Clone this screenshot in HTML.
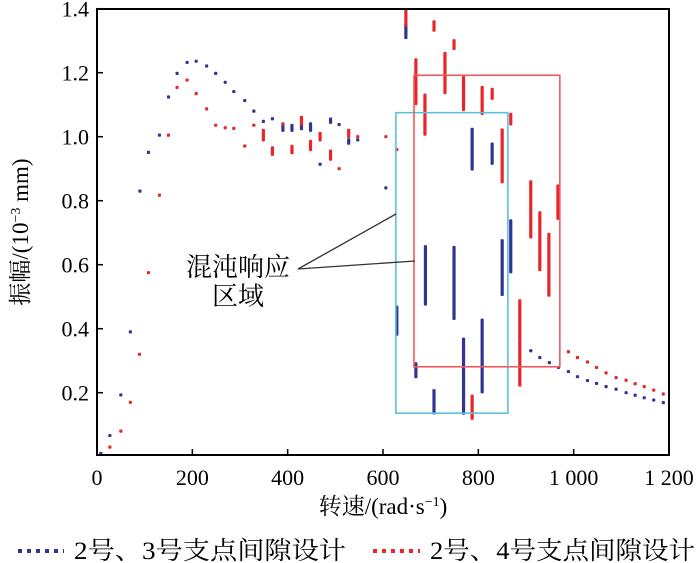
<!DOCTYPE html>
<html><head><meta charset="utf-8"><style>
body{margin:0;background:#fff;}
svg{display:block;font-family:"Liberation Serif","Noto Serif CJK SC",serif;}
</style></head><body>
<svg width="700" height="563" viewBox="0 0 700 563">
<g id="marks"></g>
<rect x="97" y="9" width="572" height="446" fill="none" stroke="#000" stroke-width="2"/>
<g id="axes" font-size="22" fill="#000"></g>
<text x="0" y="0" font-size="23" text-anchor="middle" transform="translate(28,232) rotate(-90)">振幅/(10<tspan font-size="14" dy="-8">−3</tspan><tspan dy="8"> mm)</tspan></text>
<text x="383" y="514" font-size="23" text-anchor="middle">转速/(rad·s<tspan font-size="14" dy="-8">−1</tspan><tspan dy="8">)</tspan></text>
<g>
<text x="238" y="276" font-size="26" text-anchor="middle">混沌响应</text>
<text x="238" y="305" font-size="26" text-anchor="middle">区域</text>
<line x1="298" y1="269" x2="396" y2="214" stroke="#333" stroke-width="1.3"/>
<line x1="298" y1="269" x2="415" y2="261" stroke="#333" stroke-width="1.3"/>
</g>
<g>
<g>
<line x1="18" y1="551" x2="64" y2="551" stroke="#2f3590" stroke-width="4" stroke-dasharray="4,5"/>
<text x="74" y="559" font-size="25" textLength="272" lengthAdjust="spacingAndGlyphs">2号、3号支点间隙设计</text></g>
<g>
<line x1="373" y1="551" x2="420" y2="551" stroke="#e8262a" stroke-width="4" stroke-dasharray="4,5"/>
<text x="430" y="559" font-size="25" textLength="265" lengthAdjust="spacingAndGlyphs">2号、4号支点间隙设计</text></g>
</g>
</svg>
<script>
const xTicks=[0,200,400,600,800,1000,1200];
const xTickLabels=["0","200","400","600","800","1 000","1 200"];
const yTicks=[0.2,0.4,0.6,0.8,1.0,1.2,1.4];
const yTickLabels=["0.2","0.4","0.6","0.8","1.0","1.2","1.4"];
// series: [speed, vmin, vmax]
const blueSeries=[[8,0.01,0.01],[27,0.066,0.066],[50,0.193,0.193],[70,0.39,0.39],[90,0.83,0.83],[108,0.951,0.951],[131,1.005,1.005],[150,1.124,1.124],[168,1.198,1.198],[189,1.232,1.232],[208,1.236,1.236],[230,1.221,1.221],[249,1.198,1.198],[269,1.17,1.17],[287,1.141,1.141],[310,1.113,1.113],[329,1.08,1.08],[349,1.048,1.048],[368,1.056,1.056],[390,1.02,1.035],[409,1.02,1.035],[429,1.025,1.038],[448,1.02,1.04],[468,0.914,0.914],[490,1.045,1.055],[508,1.038,1.038],[528,0.98,0.99],[547,0.99,0.99],[606,0.84,0.84],
[648,1.31,1.349],[787,0.899,1.023],[829,0.917,0.977],[868,0.578,0.737],[689,0.477,0.656],[749,0.432,0.654],[850,0.507,0.675],[629,0.383,0.467],[808,0.203,0.427],[769,0.136,0.367],[669,0.25,0.29],[707,0.137,0.206],
[887,0.354,0.354],[910,0.331,0.331],[929,0.31,0.31],[949,0.294,0.294],[968,0.279,0.279],[989,0.266,0.266],[1008,0.25,0.25],[1029,0.238,0.238],[1048,0.229,0.229],[1068,0.219,0.219],[1089,0.211,0.211],[1110,0.2,0.2],[1129,0.192,0.192],[1148,0.184,0.184],[1168,0.177,0.177],[1188,0.169,0.169]];
const redSeries=[[27,0.03,0.03],[50,0.08,0.08],[70,0.17,0.17],[89,0.32,0.32],[108,0.575,0.575],[131,0.817,0.817],[150,1.005,1.005],[168,1.154,1.154],[189,1.177,1.177],[208,1.135,1.135],[230,1.087,1.087],[249,1.036,1.036],[269,1.028,1.028],[287,1.026,1.026],[310,0.971,0.971],[329,1.036,1.036],[349,0.99,1.02],[368,0.945,0.965],[390,1.04,1.04],[409,0.95,0.97],[429,1.04,1.06],[448,0.96,0.985],[468,0.99,1.01],[490,0.93,0.955],[508,0.9,0.9],[528,1.0,1.02],[547,1.0,1.0],[606,1.0,1.0],[629,0.96,0.96],
[648,1.349,1.396],[707,1.333,1.359],[749,1.276,1.30],[669,1.104,1.24],[730,1.138,1.26],[769,1.085,1.185],[808,1.073,1.154],[829,1.12,1.148],[688,1.008,1.13],[868,1.04,1.07],[850,0.859,1.021],[910,0.687,0.859],[967,0.745,0.846],[929,0.585,0.762],[948,0.505,0.695],[887,0.224,0.487],[787,0.12,0.189],
[989,0.328,0.328],[1008,0.31,0.31],[1029,0.296,0.296],[1048,0.279,0.279],[1068,0.262,0.262],[1089,0.247,0.247],[1110,0.239,0.239],[1129,0.228,0.228],[1148,0.219,0.219],[1168,0.208,0.208],[1188,0.196,0.196]];
const cyanBox=[627,862,0.136,1.075];
const redBox=[665,971,0.281,1.192];
const NS="http://www.w3.org/2000/svg";
function xs(v){return 97+v*(572/1200);}
function ys(v){return 456.7-v*320;}
const marks=document.getElementById('marks');
const axes=document.getElementById('axes');
function mk(tag,attrs,parent){const e=document.createElementNS(NS,tag);for(const k in attrs)e.setAttribute(k,attrs[k]);parent.appendChild(e);return e;}
function box(b,color,name){
  const r=mk('rect',{x:xs(b[0]),y:ys(b[3]),width:xs(b[1])-xs(b[0]),height:ys(b[2])-ys(b[3]),fill:'none',stroke:color,'stroke-width':1.6},marks);
  
  
}
function series(arr,color,name){
  arr.forEach(d=>{
    const y1=ys(d[2]),y2=ys(d[1]);
    const r=mk('rect',{x:xs(d[0])-1.6,y:y1-1.6,width:3.2,height:(y2-y1)+3.2,rx:1,fill:color},marks);
    
    
  });
}
series(blueSeries,'#2f3590','blue-series-mark');
series(redSeries,'#e8262a','red-series-mark');
box(cyanBox,'#5bc0de','chaos-box-blue');
box(redBox,'#ee5a5e','chaos-box-red');
xTicks.forEach((t,i)=>{
  const l=mk('line',{x1:xs(t),x2:xs(t),y1:455,y2:449,stroke:'#000','stroke-width':1.5},axes);
  
  
  const tx=mk('text',{x:xs(t),y:485,'text-anchor':'middle'},axes);
  tx.textContent=xTickLabels[i];
  
  
});
yTicks.forEach((t,i)=>{
  const l=mk('line',{x1:97,x2:103,y1:ys(t),y2:ys(t),stroke:'#000','stroke-width':1.5},axes);
  
  
  const tx=mk('text',{x:89,y:ys(t)+8,'text-anchor':'end'},axes);
  tx.textContent=yTickLabels[i];
  
  
});
</script>
</body></html>
